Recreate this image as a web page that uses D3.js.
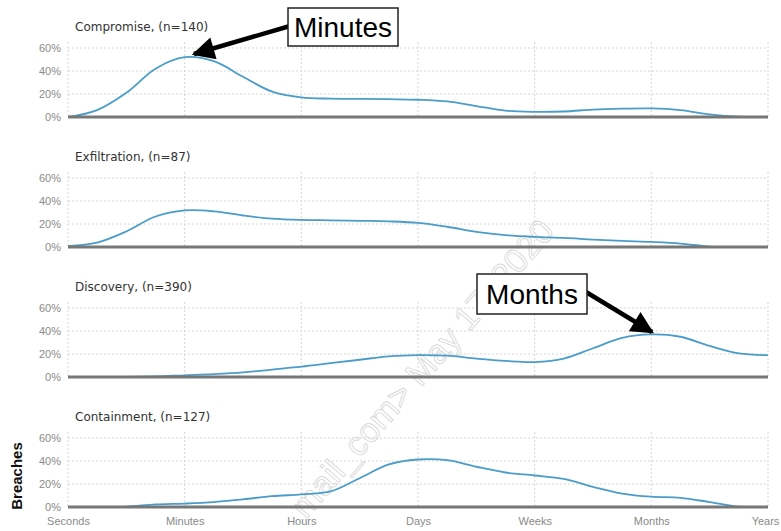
<!DOCTYPE html>
<html>
<head>
<meta charset="utf-8">
<script src="https://cdn.jsdelivr.net/npm/d3@7"></script>
<style>
  body { margin: 0; background: #fff; }
  svg { display: block; font-family: "Liberation Sans", Arial, sans-serif; }
</style>
</head>
<body>
<svg id="chart" width="781" height="531"></svg>
<script>
const timeLabels = ["Seconds", "Minutes", "Hours", "Days", "Weeks", "Months", "Years"];
// sample positions, quarter steps between the time labels (0 = Seconds, 6 = Years)
const steps = [0, 0.25, 0.5, 0.75, 1, 1.25, 1.5, 1.75, 2, 2.25, 2.5, 2.75, 3,
  3.25, 3.5, 3.75, 4, 4.25, 4.5, 4.75, 5, 5.25, 5.5, 5.75, 6];
const panelTitles = ["Compromise, (n=140)", "Exfiltration, (n=87)", "Discovery, (n=390)", "Containment, (n=127)"];
const compromise = [0, 6, 21, 42, 52, 48.5, 35, 22, 17, 16, 15.8, 15.5, 15,
  13.5, 9.5, 5.5, 4.5, 4.8, 6.4, 7.2, 7.5, 6, 2.3, 0.3, 0];
const exfiltration = [0.8, 3.8, 13.5, 26.5, 31.8, 31, 27.4, 24.6, 23.5, 23.2, 22.8, 22.3, 21,
  17.6, 13.2, 10.3, 8.8, 7.9, 6.5, 5.3, 4.4, 3, 0.3, 0, 0];
const discovery = [0, 0, 0, 0.5, 1.5, 2.5, 4, 6.5, 9, 12, 15, 18, 19,
  18.5, 16, 14, 13, 16, 25, 34, 37, 35, 27, 20.5, 19];
const containment = [0, 0, 0.3, 2.2, 3, 4.3, 6.7, 9.4, 11, 13.5, 25, 37, 41.3,
  40.7, 35, 30, 27.4, 24.4, 17.6, 11.7, 9, 8, 4.3, 0.2, 0];
const yTicks = [0, 20, 40, 60];

const series = [compromise, exfiltration, discovery, containment];

const svg = d3.select("#chart");
const margin = { left: 68, right: 13 };
const width = 781;
const panelGap = 130;
const panelHeight = 69;
const firstTop = 48;

const x = d3.scaleLinear().domain([0, 6]).range([margin.left, width - margin.right]);

// faint watermark behind everything
svg.append("text")
  .attr("transform", "translate(306,520) rotate(-49)")
  .attr("font-size", 34)
  .attr("fill", "none")
  .attr("stroke", "#d9d9d9")
  .attr("stroke-width", 0.9)
  .text("mail_com> May 17, 2020");

const defs = svg.append("defs");

series.forEach((values, i) => {
  const top = firstTop + i * panelGap;
  const base = top + panelHeight;
  const y = d3.scaleLinear().domain([0, 60]).range([base, top]);
  const g = svg.append("g");

  // keep the spline from dipping under the baseline
  defs.append("clipPath").attr("id", "clip" + i)
    .append("rect")
    .attr("x", x(0)).attr("y", top - 20)
    .attr("width", x(6) - x(0)).attr("height", base - top + 20);

  // dotted grid
  g.selectAll("line.hgrid")
    .data(yTicks.filter(d => d > 0))
    .join("line")
    .attr("class", "hgrid")
    .attr("x1", x(0)).attr("x2", x(6))
    .attr("y1", d => y(d)).attr("y2", d => y(d))
    .attr("stroke", "#d6d6d6")
    .attr("stroke-dasharray", "2,2");

  g.selectAll("line.vgrid")
    .data(d3.range(timeLabels.length))
    .join("line")
    .attr("class", "vgrid")
    .attr("x1", d => x(d)).attr("x2", d => x(d))
    .attr("y1", top - 6).attr("y2", base)
    .attr("stroke", "#d6d6d6")
    .attr("stroke-dasharray", "2,2");

  // y axis labels
  const yAxis = d3.axisLeft(y).tickValues(yTicks).tickFormat(d => d + "%").tickSize(0).tickPadding(7);
  const ya = g.append("g").attr("transform", `translate(${x(0)},0)`).call(yAxis);
  ya.select(".domain").remove();
  ya.selectAll("text").attr("fill", "#8a8a8a").attr("font-size", 11);

  // title
  g.append("text")
    .attr("x", 75)
    .attr("y", top - 17)
    .attr("font-family", "'DejaVu Sans', sans-serif")
    .attr("font-size", 12)
    .attr("fill", "#333")
    .text(panelTitles[i]);

  // curve
  const line = d3.line()
    .x((d, k) => x(steps[k]))
    .y(d => y(d))
    .curve(d3.curveCatmullRom.alpha(0.5));

  g.append("path")
    .datum(values)
    .attr("d", line)
    .attr("clip-path", `url(#clip${i})`)
    .attr("fill", "none")
    .attr("stroke", "#4a9dc8")
    .attr("stroke-width", 1.8);

  // baseline
  g.append("line")
    .attr("x1", x(0)).attr("x2", x(6))
    .attr("y1", base).attr("y2", base)
    .attr("stroke", "#777")
    .attr("stroke-width", 3);

  if (i === series.length - 1) {
    const xAxis = d3.axisBottom(x).tickValues(d3.range(timeLabels.length))
      .tickFormat(d => timeLabels[d]).tickSize(0).tickPadding(10);
    const xa = g.append("g").attr("transform", `translate(0,${base})`).call(xAxis);
    xa.select(".domain").remove();
    xa.selectAll("text").attr("fill", "#8a8a8a").attr("font-size", 11);
    xa.selectAll("text").filter(d => d === timeLabels.length - 1).attr("dx", -3);
  }
});

// y axis title
svg.append("text")
  .attr("transform", "translate(22,476) rotate(-90)")
  .attr("text-anchor", "middle")
  .attr("font-size", 15)
  .attr("font-weight", "bold")
  .attr("fill", "#111")
  .text("Breaches");

// annotations
defs.append("marker")
  .attr("id", "head")
  .attr("viewBox", "0 0 10 10")
  .attr("refX", 9).attr("refY", 5)
  .attr("markerWidth", 5.5).attr("markerHeight", 5)
  .attr("markerUnits", "strokeWidth")
  .attr("orient", "auto")
  .append("path")
  .attr("d", "M0,0 L10,5 L0,10 Z")
  .attr("fill", "#000");

function callout(label, box, from, to) {
  svg.append("line")
    .attr("x1", from[0]).attr("y1", from[1])
    .attr("x2", to[0]).attr("y2", to[1])
    .attr("stroke", "#000")
    .attr("stroke-width", 4.5)
    .attr("marker-end", "url(#head)");
  svg.append("rect")
    .attr("x", box.x).attr("y", box.y)
    .attr("width", box.w).attr("height", box.h)
    .attr("fill", "#fff")
    .attr("stroke", "#222")
    .attr("stroke-width", 1.5);
  svg.append("text")
    .attr("x", box.x + box.w / 2)
    .attr("y", box.y + box.h / 2 + 10)
    .attr("text-anchor", "middle")
    .attr("font-size", 28)
    .attr("fill", "#000")
    .text(label);
}

callout("Minutes", { x: 288, y: 8, w: 110, h: 38 }, [290, 26], [194, 54]);
callout("Months", { x: 477, y: 274, w: 110, h: 40 }, [586, 292], [652, 332]);
</script>
</body>
</html>
